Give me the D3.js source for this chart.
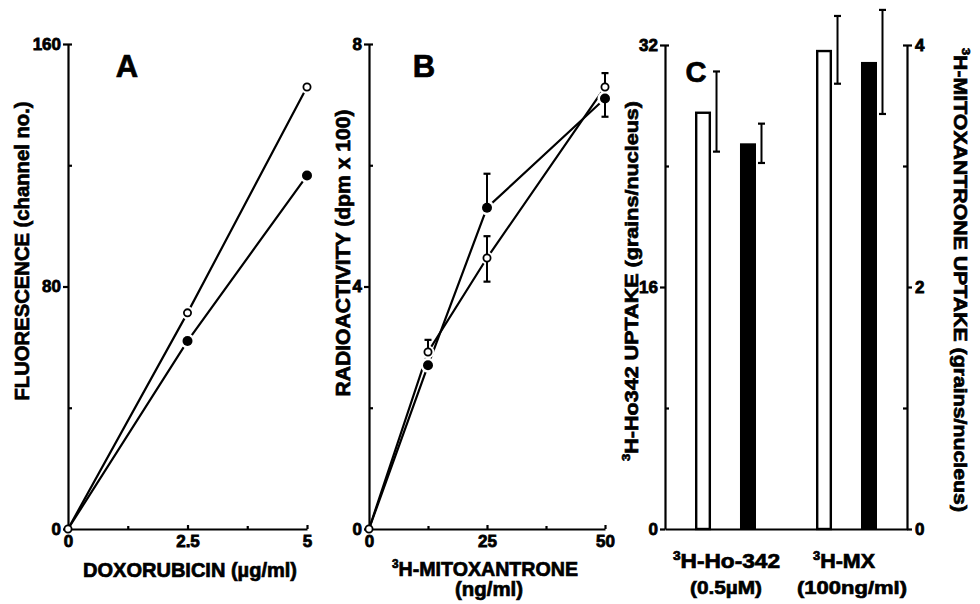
<!DOCTYPE html>
<html>
<head>
<meta charset="utf-8">
<script src="https://cdn.jsdelivr.net/npm/d3@7"></script>
<style>
  html, body { margin: 0; padding: 0; background: #fff; }
  svg { display: block; }
  text { font-family: "Liberation Sans", Arial, Helvetica, sans-serif; font-weight: bold; fill: #000; stroke: #000; stroke-width: 0.7px; }
  .axis path, .axis line { stroke: #000; stroke-width: 2.2; }
</style>
</head>
<body>
<svg id="chart" width="980" height="604"></svg>
<script>
// ---------- Panel A data ----------
const doseA = [0, 2.5, 5];
const fluorOpen = [0, 71.3, 145.8];
const fluorFilled = [0, 62.0, 116.6];
const ticksAx = [0, 2.5, 5];
const ticksAxMinor = [1.25, 3.75];
const ticksAy = [0, 80, 160];
const ticksAyMinor = [40, 120, 160];

// ---------- Panel B data ----------
const doseB = [0, 12.5, 25, 50];
const radioOpen = [0, 2.92, 4.47, 7.29];
const radioOpenHi = [null, 3.12, 4.83, 7.52];
const radioOpenLo = [null, null, 4.08, null];
const radioFilled = [0, 2.70, 5.30, 7.10];
const radioFilledHi = [null, null, 5.86, null];
const radioFilledLo = [null, null, null, 6.80];
const ticksBx = [0, 25, 50];
const ticksBxMinor = [12.5, 37.5];
const ticksBy = [0, 4, 8];
const ticksByMinor = [2, 6, 8];

// ---------- Panel C data ----------
const groupsC = ["Ho", "MX"];
const seriesC = ["open", "filled"];
const hoUptake = [27.6, 25.5];      // grains/nucleus (left axis)
const hoUptakeSD = [2.65, 1.3];
const mxUptake = [3.96, 3.86];      // grains/nucleus (right axis)
const mxUptakeSD = [0.28, 0.43];
const ticksCLeft = [0, 16, 32];
const ticksCLeftMinor = [8, 24, 32];
const ticksCRight = [0, 2, 4];
const ticksCRightMinor = [1, 3, 4];

const svg = d3.select("#chart");
const yTop = 44, yBot = 529;

function styleTicks(sel) {
  sel.selectAll("text").style("font-size", "17px").style("font-weight", "bold")
    .style("stroke", "#000").style("stroke-width", "0.8px");
  sel.select(".domain").attr("stroke-width", 2.4);
}

function drawAxes(g, x, y, xt, xtm, yt, ytm) {
  g.append("g").attr("class", "axis")
    .attr("transform", `translate(0,${yBot})`)
    .call(d3.axisBottom(x).tickValues(xt).tickSize(-4).tickSizeOuter(0).tickPadding(6)
      .tickFormat(d => d3.format("")(d)))
    .call(styleTicks);
  g.append("g").attr("class", "axis")
    .attr("transform", `translate(0,${yBot})`)
    .call(d3.axisBottom(x).tickValues(xtm).tickSize(-3).tickSizeOuter(0).tickFormat(""))
    .select(".domain").remove();
  g.append("g").attr("class", "axis")
    .attr("transform", `translate(${x.range()[0]},0)`)
    .call(d3.axisLeft(y).tickValues(yt).tickSize(5).tickSizeOuter(0).tickPadding(2))
    .call(styleTicks);
  g.append("g").attr("class", "axis")
    .attr("transform", `translate(${x.range()[0]},0)`)
    .call(d3.axisLeft(y).tickValues(ytm).tickSize(-4).tickSizeOuter(0).tickFormat(""))
    .select(".domain").remove();
}

function drawSeries(g, x, y, xs, ys, filled, hi, lo) {
  const pts = xs.map((d, i) => ({ x: d, y: ys[i], hi: hi ? hi[i] : null, lo: lo ? lo[i] : null }));
  const line = d3.line().x(d => x(d.x)).y(d => y(d.y));
  return {
    line() {
      g.append("path").datum(pts).attr("d", line)
        .attr("fill", "none").attr("stroke", "#000").attr("stroke-width", 2.2);
    },
    halo() {
      g.selectAll(null).data(pts.filter(d => d.x > 0)).enter().append("circle")
        .attr("cx", d => x(d.x)).attr("cy", d => y(d.y)).attr("r", filled ? 7.5 : 6.5)
        .attr("fill", "#fff");
    },
    err() {
      const e = pts.filter(d => d.hi != null || d.lo != null);
      e.forEach(d => {
        [d.hi, d.lo].forEach(v => {
          if (v == null) return;
          g.append("line").attr("x1", x(d.x)).attr("x2", x(d.x))
            .attr("y1", y(d.y)).attr("y2", y(v)).attr("stroke", "#000").attr("stroke-width", 2);
          g.append("line").attr("x1", x(d.x) - 3.5).attr("x2", x(d.x) + 3.5)
            .attr("y1", y(v)).attr("y2", y(v)).attr("stroke", "#000").attr("stroke-width", 2.2);
        });
      });
    },
    marks() {
      const m = filled ? pts.filter(d => d.x > 0) : pts;
      g.selectAll(null).data(m).enter().append("circle")
        .attr("cx", d => x(d.x)).attr("cy", d => y(d.y)).attr("r", filled ? 5 : 3.6)
        .attr("fill", filled ? "#000" : "#fff").attr("stroke", "#000").attr("stroke-width", filled ? 0 : 1.8);
    }
  };
}

function titleText(g, txt, x, y, rot, len, size, sup) {
  const t = g.append("text")
    .attr("transform", `translate(${x},${y}) rotate(${rot})`)
    .attr("text-anchor", "middle")
    .style("font-size", size + "px");
  if (sup) {
    const shift = Math.round(size * 0.42);
    t.append("tspan").text(sup).attr("dy", -shift).style("font-size", (size * 0.6) + "px");
    t.append("tspan").text(txt).attr("dy", shift);
  } else {
    t.text(txt);
  }
  if (len) t.attr("textLength", len).attr("lengthAdjust", "spacingAndGlyphs");
  return t;
}

// ================= Panel A =================
{
  const g = svg.append("g");
  const x = d3.scaleLinear().domain([0, 5]).range([68, 307]);
  const y = d3.scaleLinear().domain([0, 160]).range([yBot, yTop]);
  drawAxes(g, x, y, ticksAx, ticksAxMinor, ticksAy, ticksAyMinor);
  const s1 = drawSeries(g, x, y, doseA, fluorOpen, false);
  const s2 = drawSeries(g, x, y, doseA, fluorFilled, true);
  s1.line(); s2.line(); s1.halo(); s2.halo(); s1.marks(); s2.marks();
  titleText(g, "FLUORESCENCE (channel no.)", 29, 251, -90, 299, 20);
  titleText(g, "DOXORUBICIN (µg/ml)", 190, 577, 0, 214, 20);
  g.append("text").attr("x", 127).attr("y", 77).attr("text-anchor", "middle").style("font-size", "31px").text("A");
}

// ================= Panel B =================
{
  const g = svg.append("g");
  const x = d3.scaleLinear().domain([0, 50]).range([369, 605]);
  const y = d3.scaleLinear().domain([0, 8]).range([yBot, yTop]);
  drawAxes(g, x, y, ticksBx, ticksBxMinor, ticksBy, ticksByMinor);
  const s1 = drawSeries(g, x, y, doseB, radioOpen, false, radioOpenHi, radioOpenLo);
  const s2 = drawSeries(g, x, y, doseB, radioFilled, true, radioFilledHi, radioFilledLo);
  s1.line(); s2.line(); s1.halo(); s2.halo(); s1.err(); s2.err(); s1.marks(); s2.marks();
  titleText(g, "RADIOACTIVITY (dpm x 100)", 350, 253, -90, 287, 20);
  titleText(g, "H-MITOXANTRONE", 485, 576, 0, 186, 20, "3");
  titleText(g, "(ng/ml)", 489, 596, 0, 68, 20);
  g.append("text").attr("x", 424).attr("y", 77).attr("text-anchor", "middle").style("font-size", "31px").text("B");
}

// ================= Panel C =================
{
  const g = svg.append("g");
  const x0 = d3.scaleBand().domain(groupsC).range([665, 907]).paddingInner(0.2).paddingOuter(0.1);
  const x1 = d3.scaleBand().domain(seriesC).range([0, x0.bandwidth()]).paddingInner(0.644).paddingOuter(0.398);
  const yL = d3.scaleLinear().domain([0, 32]).range([yBot, yTop + 1]);
  const yR = d3.scaleLinear().domain([0, 4]).range([yBot, yTop + 1]);

  // axes
  g.append("g").attr("class", "axis").attr("transform", `translate(0,${yBot})`)
    .call(d3.axisBottom(x0).tickValues([]).tickSizeOuter(0))
    .select(".domain").attr("stroke-width", 2.4);
  g.append("g").attr("class", "axis").attr("transform", `translate(665,0)`)
    .call(d3.axisLeft(yL).tickValues(ticksCLeft).tickSize(5).tickSizeOuter(0).tickPadding(2))
    .call(styleTicks);
  g.append("g").attr("class", "axis").attr("transform", `translate(665,0)`)
    .call(d3.axisLeft(yL).tickValues(ticksCLeftMinor).tickSize(-4).tickSizeOuter(0).tickFormat(""))
    .select(".domain").remove();
  g.append("g").attr("class", "axis").attr("transform", `translate(907,0)`)
    .call(d3.axisRight(yR).tickValues(ticksCRight).tickSize(5).tickSizeOuter(0).tickPadding(3).tickFormat(d3.format("d")))
    .call(styleTicks);
  g.append("g").attr("class", "axis").attr("transform", `translate(907,0)`)
    .call(d3.axisRight(yR).tickValues(ticksCRightMinor).tickSize(-4).tickSizeOuter(0).tickFormat(""))
    .select(".domain").remove();

  const bars = [
    { grp: "Ho", s: "open", v: hoUptake[0], sd: hoUptakeSD[0], y: yL },
    { grp: "Ho", s: "filled", v: hoUptake[1], sd: hoUptakeSD[1], y: yL },
    { grp: "MX", s: "open", v: mxUptake[0], sd: mxUptakeSD[0], y: yR },
    { grp: "MX", s: "filled", v: mxUptake[1], sd: mxUptakeSD[1], y: yR }
  ];
  bars.forEach(b => {
    const bx = x0(b.grp) + x1(b.s);
    const bw = x1.bandwidth();
    const open = b.s === "open";
    g.append("rect")
      .attr("x", bx + (open ? 1.2 : 0)).attr("y", b.y(b.v) + (open ? 1.2 : 0))
      .attr("width", bw - (open ? 2.4 : 0)).attr("height", b.y(0) - b.y(b.v) - (open ? 1.2 : 0))
      .attr("fill", open ? "#fff" : "#000").attr("stroke", "#000").attr("stroke-width", open ? 2.4 : 0);
    const ex = bx + bw + 5.5;
    g.append("line").attr("x1", ex).attr("x2", ex)
      .attr("y1", b.y(b.v - b.sd)).attr("y2", b.y(b.v + b.sd)).attr("stroke", "#000").attr("stroke-width", 2);
    [b.v - b.sd, b.v + b.sd].forEach(v => {
      g.append("line").attr("x1", ex - 3.5).attr("x2", ex + 3.5)
        .attr("y1", b.y(v)).attr("y2", b.y(v)).attr("stroke", "#000").attr("stroke-width", 2.2);
    });
  });

  titleText(g, "H-Ho342 UPTAKE (grains/nucleus)", 638, 281, -90, 360, 19, "3");
  titleText(g, "H-MITOXANTRONE UPTAKE (grains/nucleus)", 954, 280, 90, 464, 19, "3");
  titleText(g, "H-Ho-342", 726.5, 568, 0, 107, 20, "3");
  titleText(g, "(0.5µM)", 726, 594, 0, 72, 19);
  titleText(g, "H-MX", 844, 568, 0, 62, 20, "3");
  titleText(g, "(100ng/ml)", 852, 594, 0, 110, 19);
  g.append("text").attr("x", 696).attr("y", 82).attr("text-anchor", "middle").style("font-size", "29px").text("C");
}
</script>
</body>
</html>
